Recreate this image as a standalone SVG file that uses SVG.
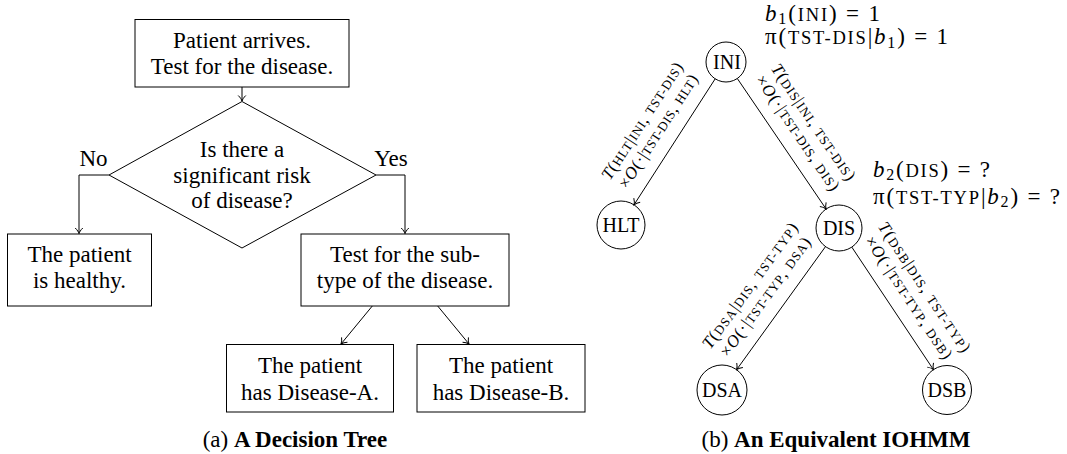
<svg xmlns="http://www.w3.org/2000/svg" width="1067" height="454" viewBox="0 0 1067 454">
<style>
  text { font-family: "Liberation Serif", "Times New Roman", serif; fill: #000; }
  .box { fill: #fff; stroke: #000; stroke-width: 1; }
  .node { fill: #fff; stroke: #000; stroke-width: 1; }
  .t23 { font-size: 23px; text-anchor: middle; }
  .nl { font-size: 20px; text-anchor: middle; }
  .lbl { font-size: 17px; text-anchor: middle; }
  .sc { font-size: 13px; }
  .it { font-style: italic; }
  .math { font-size: 23px; }
  .msc { font-size: 18.5px; }
  .sub { font-size: 16px; }
  .edge { fill: none; stroke: #000; stroke-width: 1; marker-end: url(#arr); }
  .bold { font-weight: bold; }
</style>
<defs>
  <marker id="arr" viewBox="-7 -5 8 10" markerWidth="8" markerHeight="10" refX="0" refY="0" orient="auto" markerUnits="userSpaceOnUse">
    <path d="M-5.5,-3.8 C-3.5,-1.6 -1.2,-0.4 0,0 C-1.2,0.4 -3.5,1.6 -5.5,3.8" fill="none" stroke="#000" stroke-width="1"/>
  </marker>
</defs>

<!-- Left: decision tree -->
<g id="start">
  <rect class="box" x="135" y="19.5" width="214" height="67.5"/>
  <text class="t23" x="242" y="48">Patient arrives.</text>
  <text class="t23" x="242" y="74">Test for the disease.</text>
</g>
<g id="decision">
  <polygon class="box" points="242,101.5 376,175 242,248 109,175"/>
  <text class="t23" x="242" y="157">Is there a</text>
  <text class="t23" x="242" y="182.5">significant risk</text>
  <text class="t23" x="242" y="208">of disease?</text>
</g>
<g id="healthy">
  <rect class="box" x="7.5" y="234" width="144" height="72"/>
  <text class="t23" x="79.5" y="262">The patient</text>
  <text class="t23" x="79.5" y="288">is healthy.</text>
</g>
<g id="subtype">
  <rect class="box" x="301" y="234" width="208" height="72"/>
  <text class="t23" x="405" y="262">Test for the sub-</text>
  <text class="t23" x="405" y="288">type of the disease.</text>
</g>
<g id="diseaseA">
  <rect class="box" x="226.5" y="344.5" width="167" height="67.5"/>
  <text class="t23" x="310" y="373">The patient</text>
  <text class="t23" x="310" y="400">has Disease-A.</text>
</g>
<g id="diseaseB">
  <rect class="box" x="417" y="344.5" width="168" height="67.5"/>
  <text class="t23" x="501" y="373">The patient</text>
  <text class="t23" x="501" y="400">has Disease-B.</text>
</g>
<g id="tree-connectors">
  <path class="edge" d="M242,87 L242,101"/>
  <path class="edge" d="M109,175 L79,175 L79,233.5"/>
  <path class="edge" d="M376,175 L405,175 L405,233.5"/>
  <path class="edge" d="M372.3,306 L341,344"/>
  <path class="edge" d="M437.7,306 L469,344"/>
  <text x="93.5" y="165.5" style="font-size:23px;text-anchor:middle">No</text>
  <text x="391" y="165.5" style="font-size:23px;text-anchor:middle">Yes</text>
</g>
<text x="295" y="447" style="font-size:23px;text-anchor:middle">(a) <tspan class="bold">A Decision Tree</tspan></text>

<!-- Right: IOHMM -->
<g id="INI">
  <circle class="node" cx="726" cy="62" r="20"/>
  <text class="nl" x="727" y="69">INI</text>
</g>
<g id="HLT">
  <circle class="node" cx="621" cy="225" r="24"/>
  <text class="nl" x="621" y="232">HLT</text>
</g>
<g id="DIS">
  <circle class="node" cx="839" cy="228" r="23"/>
  <text class="nl" x="839" y="235">DIS</text>
</g>
<g id="DSA">
  <circle class="node" cx="722" cy="390" r="25"/>
  <text class="nl" x="722" y="397">DSA</text>
</g>
<g id="DSB">
  <circle class="node" cx="947" cy="390" r="24.5"/>
  <text class="nl" x="947" y="397">DSB</text>
</g>

<g id="iohmm-connectors">
  <path class="edge" d="M715.2,78.8 L634,204.8"/>
  <path class="edge" d="M737.3,78.5 L826.1,209"/>
  <path class="edge" d="M825.5,246.6 L736.6,369.7"/>
  <path class="edge" d="M851.8,247.1 L933.4,369.6"/>

  <g transform="translate(674.6,141.8) rotate(-57.2)">
    <text class="lbl" x="0" y="-33" textLength="136"><tspan class="it">T</tspan>(<tspan class="sc">HLT</tspan>|<tspan class="sc">INI</tspan>, <tspan class="sc">TST-DIS</tspan>)</text>
    <text class="lbl" x="0" y="-14" textLength="132">×<tspan class="it">O</tspan>(·|<tspan class="sc">TST-DIS</tspan>, <tspan class="sc">HLT</tspan>)</text>
  </g>
  <g transform="translate(781.7,143.8) rotate(55.76)">
    <text class="lbl" x="0" y="-33" textLength="137"><tspan class="it">T</tspan>(<tspan class="sc">DIS</tspan>|<tspan class="sc">INI</tspan>, <tspan class="sc">TST-DIS</tspan>)</text>
    <text class="lbl" x="0" y="-14" textLength="136">×<tspan class="it">O</tspan>(·|<tspan class="sc">TST-DIS</tspan>, <tspan class="sc">DIS</tspan>)</text>
  </g>
  <g transform="translate(781.1,308.2) rotate(-54.16)">
    <text class="lbl" x="0" y="-33" textLength="151"><tspan class="it">T</tspan>(<tspan class="sc">DSA</tspan>|<tspan class="sc">DIS</tspan>, <tspan class="sc">TST-TYP</tspan>)</text>
    <text class="lbl" x="0" y="-14" textLength="143">×<tspan class="it">O</tspan>(·|<tspan class="sc">TST-TYP</tspan>, <tspan class="sc">DSA</tspan>)</text>
  </g>
  <g transform="translate(892.6,308.4) rotate(56.31)">
    <text class="lbl" x="0" y="-33" textLength="153"><tspan class="it">T</tspan>(<tspan class="sc">DSB</tspan>|<tspan class="sc">DIS</tspan>, <tspan class="sc">TST-TYP</tspan>)</text>
    <text class="lbl" x="0" y="-14" textLength="144">×<tspan class="it">O</tspan>(·|<tspan class="sc">TST-TYP</tspan>, <tspan class="sc">DSB</tspan>)</text>
  </g>
</g>

<g id="beliefs">
  <text class="math" x="765" y="20.7" textLength="115"><tspan class="it">b</tspan><tspan class="sub" dy="3.5">1</tspan><tspan dy="-3.5">(</tspan><tspan class="msc">INI</tspan>) = 1</text>
  <text class="math" x="765" y="44" textLength="183">π(<tspan class="msc">TST-DIS</tspan>|<tspan class="it">b</tspan><tspan class="sub" dy="3.5">1</tspan><tspan dy="-3.5">) = 1</tspan></text>
  <text class="math" x="873" y="176.7" textLength="117"><tspan class="it">b</tspan><tspan class="sub" dy="3.5">2</tspan><tspan dy="-3.5">(</tspan><tspan class="msc">DIS</tspan>) = ?</text>
  <text class="math" x="873" y="203.5" textLength="187">π(<tspan class="msc">TST-TYP</tspan>|<tspan class="it">b</tspan><tspan class="sub" dy="3.5">2</tspan><tspan dy="-3.5">) = ?</tspan></text>
</g>
<text x="836" y="447" style="font-size:23px;text-anchor:middle">(b) <tspan class="bold">An Equivalent IOHMM</tspan></text>
</svg>
